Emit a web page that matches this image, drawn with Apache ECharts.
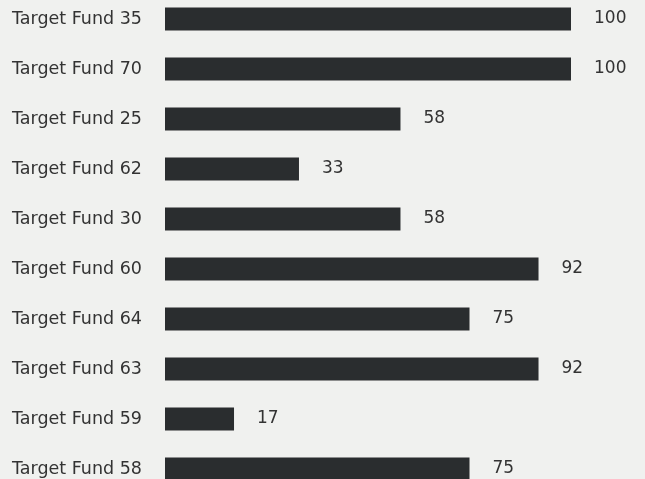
<!DOCTYPE html>
<html><head><meta charset="utf-8">
<script src="https://cdn.jsdelivr.net/npm/echarts@6/dist/echarts.min.js"></script>
<style>html,body{margin:0;padding:0;background:#f0f1ef;}#c{width:645px;height:479px;}</style>
</head><body><div id="c"></div>
<script>
const categories = ["Target Fund 35","Target Fund 70","Target Fund 25","Target Fund 62","Target Fund 30","Target Fund 60","Target Fund 64","Target Fund 63","Target Fund 59","Target Fund 58"];
const values = [100,100,58,33,58,92,75,92,17,75];
const chart = echarts.init(document.getElementById('c'));
chart.setOption({
  backgroundColor:'#f0f1ef',
  animation:false,
  grid:{left:165,width:406,top:-6,height:500,containLabel:false,outerBoundsMode:'none'},
  xAxis:{type:'value',min:0,max:100,show:false},
  yAxis:{type:'category',data:categories,inverse:true,
    axisLine:{show:false},axisTick:{show:false},splitLine:{show:false},
    axisLabel:{margin:153,align:'left',fontSize:17.5,color:'#333333',fontFamily:'DejaVu Sans'}},
  series:[{type:'bar',data:values,barWidth:23,itemStyle:{color:'#2a2d2f'},
    label:{show:true,position:'right',distance:23,fontSize:17,color:'#333333',fontFamily:'DejaVu Sans'}}]
});
</script></body></html>
